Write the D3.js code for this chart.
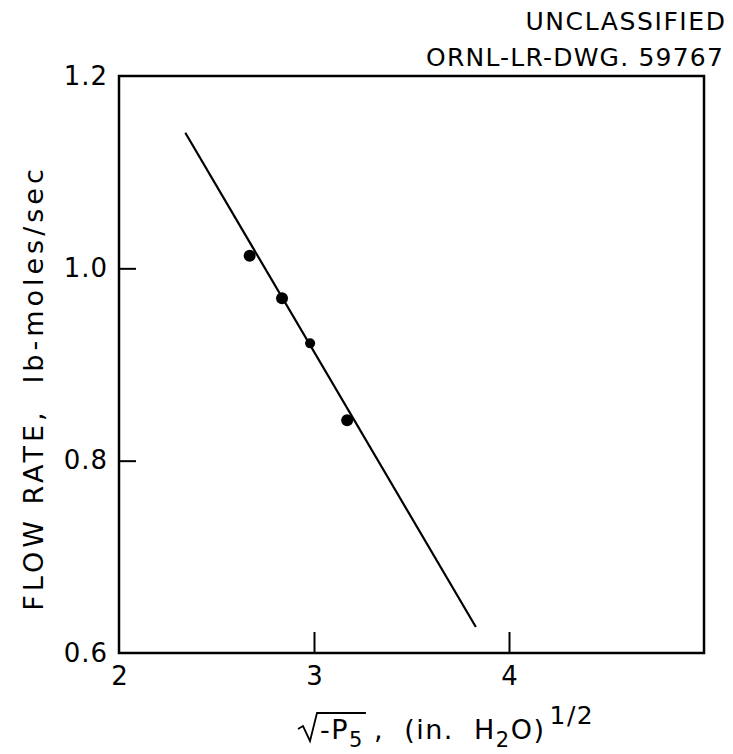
<!DOCTYPE html>
<html>
<head>
<meta charset="utf-8">
<script src="https://cdn.jsdelivr.net/npm/d3@7"></script>
<style>
  body { margin: 0; background: #fff; }
  text { font-family: "DejaVu Sans", sans-serif; fill: #000; }
</style>
</head>
<body>
<div id="chart"></div>
<script>
// Data
var pointX = [2.67, 2.836, 2.98, 3.17],
    pointY = [1.013, 0.969, 0.922, 0.842],
    pointR = [6, 6, 5, 6];
var fitX = [2.34, 3.83],
    fitY = [1.141, 0.627];
var xTicks = [2, 3, 4],
    yTicks = [0.6, 0.8, 1.0, 1.2];
var xTickLabels = ["2", "3", "4"],
    yTickLabels = ["0.6", "0.8", "1.0", "1.2"];

var width = 733, height = 754;
var margin = {left: 119, right: 29, top: 76, bottom: 101};

var svg = d3.select("#chart").append("svg")
    .attr("width", width)
    .attr("height", height);

var x = d3.scaleLinear().domain([2, 5]).range([margin.left, width - margin.right]),
    y = d3.scaleLinear().domain([0.6, 1.2]).range([height - margin.bottom, margin.top]);

// frame
svg.append("rect")
    .attr("x", x(2)).attr("y", y(1.2))
    .attr("width", x(5) - x(2)).attr("height", y(0.6) - y(1.2))
    .attr("fill", "none").attr("stroke", "#000").attr("stroke-width", 2.5);

// inward ticks (skip the corners)
var xAxis = d3.axisBottom(x).tickValues(xTicks).tickSize(-21)
    .tickFormat(function(d, i){ return xTickLabels[i]; }).tickPadding(12);
var gx = svg.append("g").attr("transform", "translate(0," + y(0.6) + ")").call(xAxis);
gx.select(".domain").remove();
gx.selectAll(".tick line").attr("stroke-width", 2)
  .attr("display", function(d){ return d == 2 ? "none" : null; });
gx.selectAll(".tick text").attr("font-size", 26).attr("dy", "0.75em");

var yAxis = d3.axisLeft(y).tickValues(yTicks).tickSize(-17)
    .tickFormat(function(d, i){ return yTickLabels[i]; }).tickPadding(11);
var gy = svg.append("g").attr("transform", "translate(" + x(2) + ",0)").call(yAxis);
gy.select(".domain").remove();
gy.selectAll(".tick line").attr("stroke-width", 2)
  .attr("display", function(d){ return (d == 0.6 || d == 1.2) ? "none" : null; });
gy.selectAll(".tick text").attr("font-size", 26).attr("letter-spacing", 1);

// fitted line
var line = d3.line().x(function(d){ return x(d[0]); }).y(function(d){ return y(d[1]); });
svg.append("path")
    .datum(d3.zip(fitX, fitY))
    .attr("d", line)
    .attr("fill", "none").attr("stroke", "#000").attr("stroke-width", 2.2);

// data points
svg.selectAll("circle.pt")
    .data(d3.zip(pointX, pointY, pointR))
    .enter().append("circle")
    .attr("class", "pt")
    .attr("cx", function(d){ return x(d[0]); })
    .attr("cy", function(d){ return y(d[1]); })
    .attr("r", function(d){ return d[2]; })
    .attr("fill", "#000");

// header
svg.append("text").attr("x", 626).attr("y", 30)
    .attr("text-anchor", "middle").attr("font-size", 25).attr("letter-spacing", 1.6)
    .text("UNCLASSIFIED");
svg.append("text").attr("x", 724).attr("y", 66)
    .attr("text-anchor", "end").attr("font-size", 25).attr("letter-spacing", 1.2)
    .text("ORNL-LR-DWG. 59767");

// y title
svg.append("text")
    .attr("transform", "translate(43,388) rotate(-90)")
    .attr("text-anchor", "middle").attr("font-size", 27).attr("letter-spacing", 4)
    .attr("xml:space", "preserve")
    .text("FLOW RATE,  lb-moles/sec");

// x title: sqrt(-P5) , (in. H2O)^1/2
var base = 739;
var rad = svg.append("text").attr("x", 320).attr("y", base).attr("font-size", 27)
    .attr("letter-spacing", 1.5);
rad.append("tspan").text("-P");
rad.append("tspan").attr("font-size", 21).attr("dy", 8).text("5");
var rb = rad.node().getBBox();
var topY = base - 26;
svg.append("path")
    .attr("d", "M" + (rb.x - 22) + "," + (base - 10) +
               " L" + (rb.x - 17) + "," + (base - 13) +
               " L" + (rb.x - 10) + "," + (base + 2) +
               " L" + (rb.x - 3) + "," + topY +
               " L" + (rb.x + rb.width + 2) + "," + topY)
    .attr("fill", "none").attr("stroke", "#000").attr("stroke-width", 1.8);

var rest = svg.append("text").attr("x", rb.x + rb.width + 10).attr("y", base)
    .attr("font-size", 27).attr("letter-spacing", 1.5).attr("xml:space", "preserve");
rest.append("tspan").text(",  (in.  H");
rest.append("tspan").attr("font-size", 21).attr("dy", 8).text("2");
rest.append("tspan").attr("dy", -8).text("O)");
rest.append("tspan").attr("font-size", 25).attr("dy", -15).attr("dx", 4).text("1/2");
</script>
</body>
</html>
